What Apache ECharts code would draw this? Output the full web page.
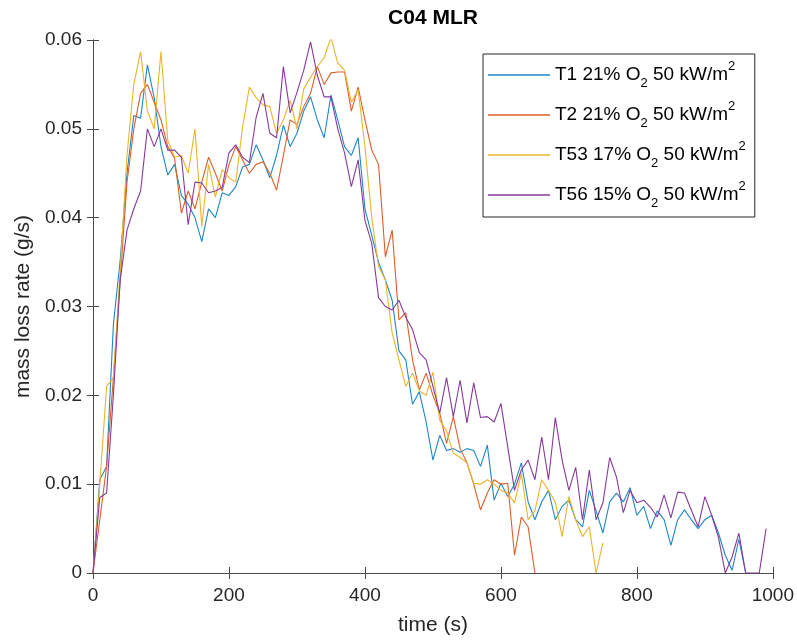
<!DOCTYPE html>
<html>
<head>
<meta charset="utf-8">
<script src="https://cdn.jsdelivr.net/npm/echarts@6/dist/echarts.min.js"></script>
<style>
  html, body { margin: 0; padding: 0; background: #fff; }
  #chart { width: 797px; height: 642px; }
</style>
</head>
<body>
<div id="chart"></div>
<script>
// time (s), one sample every 10 s
var time = [0, 10, 20, 30, 40, 50, 60, 70, 80, 90, 100, 110, 120, 130, 140, 150, 160, 170, 180, 190,
  200, 210, 220, 230, 240, 250, 260, 270, 280, 290, 300, 310, 320, 330, 340, 350, 360, 370, 380, 390,
  400, 410, 420, 430, 440, 450, 460, 470, 480, 490, 500, 510, 520, 530, 540, 550, 560, 570, 580, 590,
  600, 610, 620, 630, 640, 650, 660, 670, 680, 690, 700, 710, 720, 730, 740, 750, 760, 770, 780, 790,
  800, 810, 820, 830, 840, 850, 860, 870, 880, 890, 900, 910, 920, 930, 940, 950, 960, 970, 980, 990];

// mass loss rate (g/s)
var mlrT1 = [0, 0.0105, 0.012, 0.028, 0.0352, 0.045, 0.0515, 0.0512, 0.0572, 0.0535,
  0.048, 0.0448, 0.046, 0.0425, 0.0415, 0.040, 0.0373, 0.041, 0.040, 0.0428,
  0.0425, 0.0435, 0.0457, 0.046, 0.0482, 0.0465, 0.0445, 0.047, 0.0504, 0.048,
  0.0495, 0.052, 0.0536, 0.051, 0.049, 0.0538, 0.051, 0.048, 0.047, 0.049,
  0.041, 0.038, 0.035, 0.033, 0.0307, 0.025, 0.024, 0.019, 0.0204, 0.017,
  0.0127, 0.0155, 0.0138, 0.014, 0.0136, 0.014, 0.0138, 0.012, 0.0144, 0.0082,
  0.0101, 0.0086, 0.010, 0.0124, 0.008, 0.006, 0.008, 0.0093, 0.006, 0.0075,
  0.0082, 0.006, 0.0052, 0.0093, 0.007, 0.0045, 0.008, 0.009, 0.008, 0.0096,
  0.0065, 0.0075, 0.005, 0.007, 0.006, 0.0031, 0.006, 0.0071, 0.006, 0.005,
  0.006, 0.0065, 0.0045, 0.002, 0.0003, 0.0038, 0];

var mlrT2 = [0, 0.006, 0.012, 0.022, 0.033, 0.044, 0.050, 0.054, 0.055, 0.053,
  0.051, 0.048, 0.0467, 0.0405, 0.043, 0.041, 0.044, 0.0468, 0.045, 0.043,
  0.046, 0.048, 0.0465, 0.045, 0.046, 0.0463, 0.045, 0.0431, 0.047, 0.051,
  0.0505, 0.0525, 0.054, 0.057, 0.055, 0.0563, 0.0564, 0.0564, 0.052, 0.0547,
  0.051, 0.0476, 0.046, 0.0356, 0.0386, 0.0285, 0.0293, 0.024, 0.0206, 0.0225,
  0.020, 0.018, 0.0146, 0.0176, 0.014, 0.0124, 0.010, 0.0071, 0.009, 0.0105,
  0.010, 0.0101, 0.002, 0.0063, 0.0052, 0];

var mlrT53 = [0, 0.010, 0.021, 0.022, 0.034, 0.047, 0.055, 0.0587, 0.052, 0.050,
  0.0587, 0.0487, 0.0468, 0.047, 0.045, 0.050, 0.039, 0.046, 0.0423, 0.0454,
  0.0445, 0.044, 0.0502, 0.0547, 0.0535, 0.0527, 0.0525, 0.0495, 0.051, 0.0532,
  0.050, 0.0545, 0.0558, 0.057, 0.058, 0.0603, 0.0574, 0.0566, 0.053, 0.0544,
  0.048, 0.040, 0.0345, 0.033, 0.027, 0.024, 0.021, 0.0225, 0.0205, 0.020,
  0.0226, 0.0172, 0.016, 0.0135, 0.013, 0.0124, 0.0101, 0.010, 0.0105, 0.010,
  0.0093, 0.009, 0.0079, 0.0112, 0.006, 0.007, 0.0105, 0.0093, 0.008, 0.0041,
  0.0086, 0.006, 0.0041, 0.0052, 0, 0.0034];

var mlrT56 = [0, 0.0085, 0.009, 0.020, 0.033, 0.0386, 0.041, 0.043, 0.050, 0.048,
  0.050, 0.0476, 0.0476, 0.0468, 0.0392, 0.044, 0.0439, 0.0428, 0.043, 0.0434,
  0.0473, 0.0482, 0.0468, 0.0462, 0.0513, 0.054, 0.0495, 0.049, 0.057, 0.0518,
  0.0541, 0.0566, 0.0598, 0.056, 0.0536, 0.0536, 0.050, 0.0473, 0.0435, 0.0465,
  0.0397, 0.0371, 0.031, 0.030, 0.0296, 0.0307, 0.0288, 0.0274, 0.0248, 0.024,
  0.021, 0.018, 0.022, 0.0176, 0.0217, 0.0169, 0.0214, 0.0175, 0.0176, 0.017,
  0.0191, 0.0142, 0.0093, 0.0116, 0.0127, 0.0105, 0.0153, 0.0105, 0.0175, 0.0127,
  0.0093, 0.0119, 0.006, 0.0116, 0.006, 0.0079, 0.013, 0.0108, 0.0068, 0.0093,
  0.0079, 0.0082, 0.0074, 0.0063, 0.0088, 0.0062, 0.0091, 0.009, 0.0071, 0.0052,
  0.0086, 0.0065, 0.004, 0, 0.0018, 0.0045, 0, 0, 0, 0.005];

var seriesNames = ['T1', 'T2', 'T53', 'T56'];
var oxygen = ['21', '21', '17', '15'];
var colors = ['#1f86c4', '#db5f2a', '#ebb42c', '#86399a'];

var font = 'Liberation Sans, Arial, Helvetica, sans-serif';
var ink = '#262626';
var frame = '#4a4a4a';

function pairs(vals) {
  return vals.map(function (v, i) { return [time[i], v]; });
}

var myChart = echarts.init(document.getElementById('chart'), null, { renderer: 'canvas' });

var axisLineStyle = { show: true, lineStyle: { color: frame, width: 1 } };
var tickStyle = { show: true, inside: true, length: 6, lineStyle: { color: frame } };

var allVals = [mlrT1, mlrT2, mlrT53, mlrT56];

var option = {
  backgroundColor: '#fff',
  animation: false,
  textStyle: { fontFamily: font },
  title: {
    text: 'C04 MLR',
    left: 433,
    top: 8,
    padding: 0,
    textAlign: 'center',
    textStyle: { fontSize: 21, fontWeight: 'bold', color: '#000', fontFamily: font }
  },
  legend: {
    orient: 'vertical',
    left: 483,
    top: 54,
    padding: [6, 9, 7, 5],
    itemGap: 10,
    itemWidth: 62,
    itemHeight: 1.5,
    icon: 'rect',
    borderColor: ink,
    borderWidth: 1,
    backgroundColor: '#fff',
    data: seriesNames,
    formatter: function (name) {
      var i = seriesNames.indexOf(name);
      return '{n|' + name + ' ' + oxygen[i] + '% O}{sub|2}{n| 50 kW/m}{sup|2}';
    },
    textStyle: {
      color: '#000',
      fontFamily: font,
      rich: {
        n: { fontSize: 19, lineHeight: 30, fontFamily: font, color: '#000' },
        sub: { fontSize: 13, lineHeight: 12, verticalAlign: 'bottom', fontFamily: font, color: '#000' },
        sup: { fontSize: 13, lineHeight: 16, verticalAlign: 'top', fontFamily: font, color: '#000' }
      }
    }
  },
  grid: { left: 93, right: 24, top: 40, bottom: 69, containLabel: false },
  xAxis: [{
    type: 'value',
    min: 0,
    max: 1000,
    interval: 200,
    position: 'bottom',
    name: 'time (s)',
    nameLocation: 'middle',
    nameGap: 42,
    nameTextStyle: { fontSize: 21, color: ink, fontFamily: font },
    axisLine: axisLineStyle,
    axisTick: tickStyle,
    axisLabel: {
      fontSize: 19, color: ink, margin: 13, fontFamily: font,
      formatter: function (v) { return String(v); }
    },
    splitLine: { show: false }
  }, {
    type: 'value',
    min: 0,
    max: 1000,
    interval: 200,
    position: 'top',
    axisLine: axisLineStyle,
    axisTick: tickStyle,
    axisLabel: { show: false },
    splitLine: { show: false }
  }],
  yAxis: [{
    type: 'value',
    min: 0,
    max: 0.06,
    interval: 0.01,
    position: 'left',
    name: 'mass loss rate (g/s)',
    nameLocation: 'middle',
    nameGap: 53,
    nameTextStyle: { fontSize: 21, color: ink, fontFamily: font },
    axisLine: axisLineStyle,
    axisTick: tickStyle,
    axisLabel: {
      fontSize: 19, color: ink, margin: 11, fontFamily: font,
      formatter: function (v) { return v === 0 ? '0' : v.toFixed(2); }
    },
    splitLine: { show: false }
  }, {
    type: 'value',
    min: 0,
    max: 0.06,
    interval: 0.01,
    position: 'right',
    axisLine: axisLineStyle,
    axisTick: tickStyle,
    axisLabel: { show: false },
    splitLine: { show: false }
  }],
  series: seriesNames.map(function (name, i) {
    return {
      name: name,
      type: 'line',
      xAxisIndex: 0,
      yAxisIndex: 0,
      showSymbol: false,
      symbol: 'none',
      clip: true,
      color: colors[i],
      lineStyle: { width: 1.1, color: colors[i] },
      data: pairs(allVals[i])
    };
  })
};

myChart.setOption(option);
</script>
</body>
</html>
